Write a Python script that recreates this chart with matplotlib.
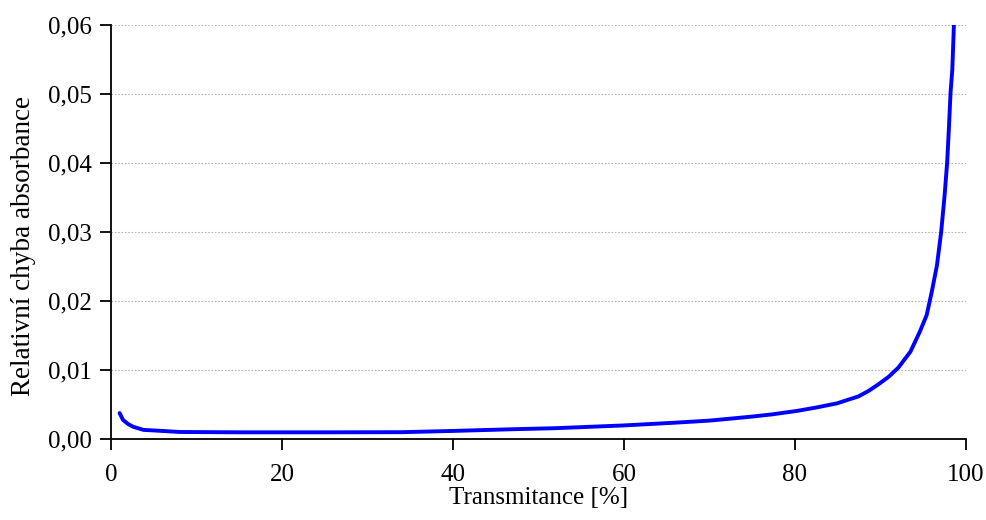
import matplotlib
matplotlib.use("Agg")
import matplotlib.pyplot as plt
from matplotlib.ticker import FuncFormatter

transmitance = [1.0, 1.4, 2.0, 2.6, 3.8, 6.0, 8.0, 15.0, 25.0, 34.0, 40.0, 47.0, 52.0,
                56.0, 60.0, 63.0, 66.0, 70.0, 72.6, 75.1, 77.3, 80.2, 82.5, 84.9,
                87.4, 88.6, 89.8, 91.0, 92.1, 93.5, 94.6, 95.4, 96.0, 96.6, 97.1, 97.5,
                97.8, 98.0, 98.2, 98.4, 98.6]
chyba = [0.0037, 0.0027, 0.0021, 0.0017, 0.00125, 0.0011, 0.00095, 0.0009, 0.0009,
         0.00092, 0.0011, 0.00135, 0.0015, 0.0017, 0.0019, 0.0021, 0.0023, 0.0026,
         0.0029, 0.0032, 0.0035, 0.0040, 0.0045, 0.0051, 0.0061, 0.0069, 0.0079,
         0.0090, 0.0103, 0.0126, 0.0155, 0.0179, 0.0213, 0.0251, 0.0300, 0.0353,
         0.0401, 0.0450, 0.0503, 0.0535, 0.0605]

x_ticks = [0, 20, 40, 60, 80, 100]
y_ticks = [0.00, 0.01, 0.02, 0.03, 0.04, 0.05, 0.06]

plt.rcParams['font.family'] = ['Liberation Serif', 'DejaVu Serif']

fig = plt.figure(figsize=(9.86, 5.2), dpi=100)
ax = fig.add_axes([0.1126, 0.1567, 0.9797 - 0.1126, 0.9519 - 0.1567])

ax.plot(transmitance, chyba, color='#0000ff', linewidth=2.8, solid_joinstyle='round',
        solid_capstyle='round', clip_on=True, zorder=3)

ax.set_xlim(0, 100)
ax.set_ylim(0, 0.06)
ax.set_xticks(x_ticks)
ax.set_yticks(y_ticks)
ax.yaxis.set_major_formatter(FuncFormatter(lambda v, p: f"{v:.2f}".replace('.', ',')))

ax.grid(axis='y', color='#b4b4b4', linestyle=(0, (1.5, 1.5)), linewidth=0.8, zorder=0)
ax.set_axisbelow(True)

for s in ['top', 'right']:
    ax.spines[s].set_visible(False)
for s in ['left', 'bottom']:
    ax.spines[s].set_linewidth(1.3)
    ax.spines[s].set_color('black')

ax.tick_params(axis='both', direction='out', length=8, width=1.3, labelsize=18, colors='black')
ax.tick_params(axis='x', pad=10)
ax.tick_params(axis='y', pad=6)

ax.set_xlabel('Transmitance [%]', fontsize=18, labelpad=1)
ax.set_ylabel('Relativní chyba absorbance', fontsize=19.5)
ax.yaxis.set_label_coords(-0.088, 0.465)

fig.savefig('out.png', dpi=100)
